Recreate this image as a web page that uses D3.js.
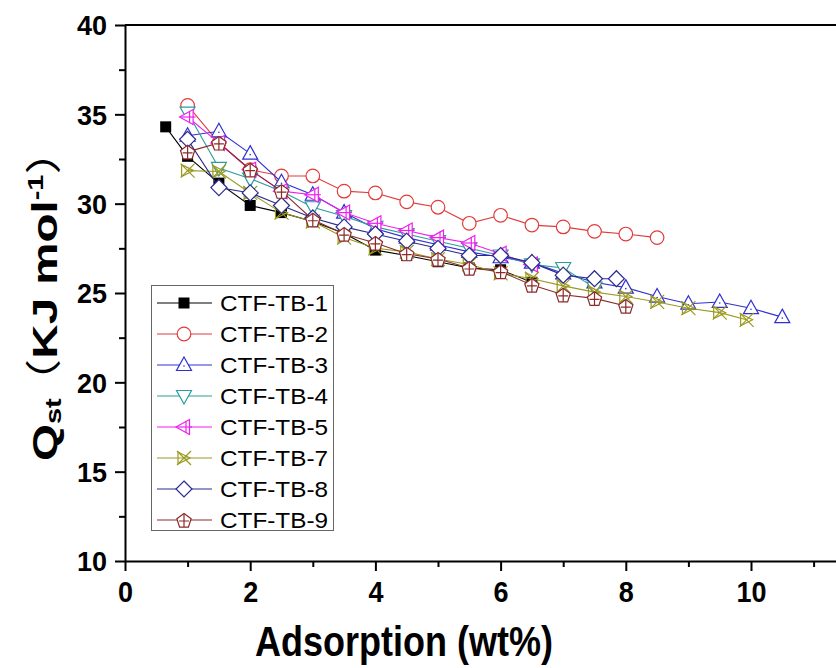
<!DOCTYPE html>
<html><head><meta charset="utf-8">
<script src="https://cdn.jsdelivr.net/npm/d3@7"></script>
<style>
html,body{margin:0;padding:0;background:#fff;}
svg{display:block;}
text{font-family:"Liberation Sans",Arial,sans-serif;}
</style></head>
<body>
<svg id="c" width="836" height="668"></svg>
<script>
// ---- data ----
const seriesNames = ["CTF-TB-1","CTF-TB-2","CTF-TB-3","CTF-TB-4","CTF-TB-5","CTF-TB-7","CTF-TB-8","CTF-TB-9"];
const tb1X = [0.65,1,1.5,2,2.5,3,3.5,4,4.5,5,5.5,6,6.5];
const tb1Q = [34.3,32.65,31.15,29.9,29.5,29.0,28.35,27.4,27.1,26.75,26.4,26.3,25.6];
const tb2X = [1,1.5,2,2.5,3,3.5,4,4.5,5,5.5,6,6.5,7,7.5,8,8.5];
const tb2Q = [35.5,33.4,31.9,31.55,31.55,30.7,30.6,30.1,29.8,28.9,29.35,28.8,28.7,28.45,28.3,28.1];
const tb3X = [1,1.5,2,2.5,3,3.5,4,4.5,5,5.5,6,6.5,7,7.5,8,8.5,9,9.5,10,10.5];
const tb3Q = [33.8,34.05,32.8,31.2,30.5,29.5,28.6,28.1,27.7,27.3,27.0,26.7,26.1,25.6,25.3,24.8,24.4,24.5,24.15,23.65];
const tb4X = [1,1.5,2,2.5,3,3.5,4,4.5,5,5.5,6,6.5,7,7.5];
const tb4Q = [35.1,32.0,31.4,30.7,29.8,29.3,28.7,28.3,27.9,27.5,27.1,26.6,26.4,25.3];
const tb5X = [1,1.5,2,2.5,3,3.5,4,4.5,5,5.5,6,6.5];
const tb5Q = [34.85,33.4,31.9,30.7,30.5,29.5,28.9,28.5,28.1,27.8,27.2,26.6];
const tb7X = [1,1.5,2,2.5,3,3.5,4,4.5,5,5.5,6,6.5,7,7.5,8,8.5,9,9.5,9.93];
const tb7Q = [31.85,31.8,30.6,29.5,29.0,28.1,27.5,27.3,26.9,26.6,26.1,25.8,25.4,25.05,24.8,24.5,24.15,23.9,23.5];
const tb8X = [1,1.5,2,2.5,3,3.5,4,4.5,5,5.5,6,6.5,7,7.5,7.85];
const tb8Q = [33.6,30.9,30.6,29.9,29.2,28.7,28.3,27.9,27.5,27.1,27.1,26.7,26.0,25.8,25.8];
const tb9X = [1,1.5,2,2.5,3,3.5,4,4.5,5,5.5,6,6.5,7,7.5,8];
const tb9Q = [32.9,33.4,31.9,30.7,29.1,28.3,27.8,27.2,26.9,26.4,26.2,25.45,24.9,24.7,24.27];
const xMajorTicks = [0,2,4,6,8,10];
const xMinorTicks = [1,3,5,7,9,11];
const yMajorTicks = [10,15,20,25,30,35,40];
const yMinorTicks = [12.5,17.5,22.5,27.5,32.5,37.5];
const xTitle = "Adsorption (wt%)";

// ---- styling ----
const allX = [tb1X,tb2X,tb3X,tb4X,tb5X,tb7X,tb8X,tb9X];
const allQ = [tb1Q,tb2Q,tb3Q,tb4Q,tb5Q,tb7Q,tb8Q,tb9Q];
const colors = ["#000000","#e23b3b","#3030d0","#2e9c9c","#f020f0","#9a9a20","#2a2a90","#8c2a2a"];
const shapes = ["square","circle","triUp","triDown","triLeft","xTri","diamond","pentagon"];

const svg = d3.select("#c");
const x = d3.scaleLinear().domain([0,11.5]).range([125,125+11.5*62.6]);
const y = d3.scaleLinear().domain([10,40]).range([561,25]);

// frame top line
svg.append("line").attr("x1",x(0)).attr("x2",836).attr("y1",y(40)).attr("y2",y(40))
  .attr("stroke","#000").attr("stroke-width",2);

// axes
const gx = svg.append("g").attr("transform",`translate(0,${y(10)})`)
  .call(d3.axisBottom(x).tickValues(xMajorTicks).tickSize(10).tickPadding(10).tickSizeOuter(0).tickFormat(d3.format("d")));
const gxm = svg.append("g").attr("transform",`translate(0,${y(10)})`)
  .call(d3.axisBottom(x).tickValues(xMinorTicks).tickSize(6).tickSizeOuter(0).tickFormat(""));
const gy = svg.append("g").attr("transform",`translate(${x(0)},0)`)
  .call(d3.axisLeft(y).tickValues(yMajorTicks).tickSize(10).tickPadding(8).tickSizeOuter(0).tickFormat(d3.format("d")));
const gym = svg.append("g").attr("transform",`translate(${x(0)},0)`)
  .call(d3.axisLeft(y).tickValues(yMinorTicks).tickSize(6).tickSizeOuter(0).tickFormat(""));
[gx,gxm,gy,gym].forEach(g=>{
  g.selectAll("path.domain").attr("stroke","#000").attr("stroke-width",2);
  g.selectAll(".tick line").attr("stroke","#000").attr("stroke-width",2);
  g.selectAll(".tick text").attr("fill","#000").style("font-family","'Liberation Sans',Arial,sans-serif")
    .style("font-weight","bold").style("font-size","27px");
});
gym.select("path.domain").remove(); gxm.select("path.domain").remove();
gy.selectAll(".tick text").attr("dy","0.36em");
gx.selectAll(".tick text").attr("y",0).attr("dy",0).attr("transform","translate(0,41) scale(1,1.08)");

// marker drawing
function marker(g, shape, color, cx, cy){
  const sw = 1.2;
  if(shape==="square"){
    g.append("rect").attr("x",cx-5.5).attr("y",cy-5.5).attr("width",11).attr("height",11).attr("fill",color);
  } else if(shape==="circle"){
    g.append("circle").attr("cx",cx).attr("cy",cy).attr("r",6.8).attr("fill","#fff").attr("stroke",color).attr("stroke-width",sw);
  } else if(shape==="triUp"){
    g.append("path").attr("d",`M${cx},${cy-8}L${cx+7.5},${cy+5.5}L${cx-7.5},${cy+5.5}Z`).attr("fill","#fff").attr("stroke",color).attr("stroke-width",sw);
    g.append("circle").attr("cx",cx).attr("cy",cy+1).attr("r",0.8).attr("fill",color);
  } else if(shape==="triDown"){
    g.append("path").attr("d",`M${cx},${cy+8}L${cx+7.5},${cy-5.5}L${cx-7.5},${cy-5.5}Z`).attr("fill","#fff").attr("stroke",color).attr("stroke-width",sw);
  } else if(shape==="triLeft"){
    g.append("path").attr("d",`M${cx-8},${cy}L${cx+5.5},${cy-7.5}L${cx+5.5},${cy+7.5}Z`).attr("fill","#fff").attr("stroke",color).attr("stroke-width",sw);
    g.append("line").attr("x1",cx-8).attr("x2",cx+8).attr("y1",cy).attr("y2",cy).attr("stroke",color).attr("stroke-width",sw);
    g.append("line").attr("x1",cx+2).attr("x2",cx+2).attr("y1",cy-6).attr("y2",cy+6).attr("stroke",color).attr("stroke-width",sw);
  } else if(shape==="xTri"){
    g.append("path").attr("d",`M${cx-7},${cy-7}L${cx+7},${cy+7}M${cx-7},${cy+7}L${cx+7},${cy-7}`).attr("stroke",color).attr("stroke-width",sw).attr("fill","none");
    g.append("path").attr("d",`M${cx-6},${cy-6}L${cx+6},${cy}L${cx-6},${cy+6}Z`).attr("stroke",color).attr("stroke-width",sw).attr("fill","none");
  } else if(shape==="diamond"){
    g.append("path").attr("d",`M${cx},${cy-8}L${cx+8},${cy}L${cx},${cy+8}L${cx-8},${cy}Z`).attr("fill","#fff").attr("stroke",color).attr("stroke-width",sw);
  } else if(shape==="pentagon"){
    const pts = d3.range(5).map(i=>{const a=-Math.PI/2+i*2*Math.PI/5; return [cx+7.5*Math.cos(a), cy+1+7.5*Math.sin(a)];});
    g.append("path").attr("d","M"+pts.map(p=>p.join(",")).join("L")+"Z").attr("fill","#fff").attr("stroke",color).attr("stroke-width",sw);
    g.append("path").attr("d",`M${cx-5},${cy+1}L${cx+5},${cy+1}M${cx},${cy-6}L${cx},${cy+7}`).attr("stroke",color).attr("stroke-width",sw);
  }
}

// series
const line = d3.line().x(d=>x(d[0])).y(d=>y(d[1]));
allX.forEach((xs,i)=>{
  const pts = xs.map((v,j)=>[v, allQ[i][j]]);
  const g = svg.append("g");
  g.append("path").datum(pts).attr("d",line).attr("fill","none").attr("stroke",colors[i]).attr("stroke-width",1.1);
  pts.forEach(p=>marker(g, shapes[i], colors[i], x(p[0]), y(p[1])));
});

// legend
const lg = svg.append("g");
lg.append("rect").attr("x",151.5).attr("y",285.5).attr("width",182).attr("height",245)
  .attr("fill","#fff").attr("stroke","#666").attr("stroke-width",1);
seriesNames.forEach((n,i)=>{
  const yy = 303 + i*31;
  lg.append("line").attr("x1",157).attr("x2",212).attr("y1",yy).attr("y2",yy).attr("stroke",colors[i]).attr("stroke-width",1.1);
  marker(lg, shapes[i], colors[i], 184, yy);
  lg.append("text").attr("x",220).attr("y",yy).attr("dy","0.36em").style("font-size","22px")
    .attr("textLength",108).attr("lengthAdjust","spacingAndGlyphs").attr("fill","#000").text(n);
});

// axis titles
svg.append("text").attr("transform","translate(404,656) scale(1,1.2)").attr("text-anchor","middle")
  .style("font-weight","bold").style("font-size","36px").text(xTitle);

const yt = svg.append("text").attr("transform","translate(57,294) rotate(-90) scale(1.32,1)").attr("text-anchor","middle")
  .style("font-weight","bold").style("font-size","36px");
yt.append("tspan").text("Q");
yt.append("tspan").style("font-size","22px").attr("dy","4").text("st");
yt.append("tspan").attr("dy","-4").attr("dx","-6").style("font-family","'Noto Sans CJK SC'").style("font-weight","normal").text("（");
yt.append("tspan").text("KJ mol");
yt.append("tspan").style("font-size","22px").attr("dy","-14").text("-1");
yt.append("tspan").attr("dy","14").style("font-family","'Noto Sans CJK SC'").style("font-weight","normal").text("）");
</script>
</body></html>
